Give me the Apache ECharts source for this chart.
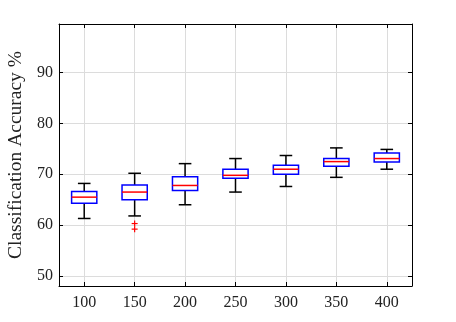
<!DOCTYPE html>
<html>
<head>
<meta charset="utf-8">
<script src="https://cdn.jsdelivr.net/npm/echarts@6/dist/echarts.min.js"></script>
<style>
  html, body { margin: 0; padding: 0; background: #fff; }
  #chart { width: 456px; height: 322px; }
</style>
</head>
<body>
<div id="chart"></div>
<script>
// categories (sample sizes)
const categories = ['100', '150', '200', '250', '300', '350', '400'];
// box stats per category: [lower whisker, Q1, median, Q3, upper whisker]
const lowerWhisker = [61.3, 61.8, 64.0, 66.5, 67.6, 69.4, 71.0];
const q1Values     = [64.3, 65.0, 66.8, 69.2, 70.0, 71.6, 72.4];
const medianValues = [65.5, 66.5, 67.8, 69.8, 71.0, 72.5, 73.1];
const q3Values     = [66.6, 67.9, 69.5, 71.0, 71.8, 73.1, 74.2];
const upperWhisker = [68.2, 70.2, 72.1, 73.1, 73.7, 75.2, 74.9];
// outliers: [category index (1-based), value]
const outliers = [[2, 60.3], [2, 59.2]];
const yTicks = [50, 60, 70, 80, 90];

const font = '"Liberation Serif", "Times New Roman", serif';

const boxData = categories.map((c, i) => [
  i + 1, lowerWhisker[i], q1Values[i], medianValues[i], q3Values[i], upperWhisker[i]
]);

// draw whiskers (black), box (blue), median (red)
function renderBox(params, api) {
  const x = api.value(0);
  const unit = api.size([1, 0])[0];
  const halfBox = unit * 0.25;
  const halfCap = unit * 0.125;
  const pLow = api.coord([x, api.value(1)]);
  const pQ1 = api.coord([x, api.value(2)]);
  const pMed = api.coord([x, api.value(3)]);
  const pQ3 = api.coord([x, api.value(4)]);
  const pHigh = api.coord([x, api.value(5)]);
  const cx = pMed[0];
  const black = { stroke: '#000', lineWidth: 1.5 };
  return {
    type: 'group',
    children: [
      { type: 'line', shape: { x1: cx, y1: pQ3[1], x2: cx, y2: pHigh[1] }, style: black },
      { type: 'line', shape: { x1: cx, y1: pQ1[1], x2: cx, y2: pLow[1] }, style: black },
      { type: 'line', shape: { x1: cx - halfCap, y1: pHigh[1], x2: cx + halfCap, y2: pHigh[1] }, style: black },
      { type: 'line', shape: { x1: cx - halfCap, y1: pLow[1], x2: cx + halfCap, y2: pLow[1] }, style: black },
      { type: 'rect', shape: { x: cx - halfBox, y: pQ3[1], width: halfBox * 2, height: pQ1[1] - pQ3[1] },
        style: { fill: '#fff', stroke: '#0000ff', lineWidth: 1.5 } },
      { type: 'line', shape: { x1: cx - halfBox, y1: pMed[1], x2: cx + halfBox, y2: pMed[1] },
        style: { stroke: '#ff0000', lineWidth: 1.5 } }
    ]
  };
}

function renderPlus(params, api) {
  const p = api.coord([api.value(0), api.value(1)]);
  const s = 3;
  const st = { stroke: '#ff0000', lineWidth: 1.2 };
  return {
    type: 'group',
    children: [
      { type: 'line', shape: { x1: p[0] - s, y1: p[1], x2: p[0] + s, y2: p[1] }, style: st },
      { type: 'line', shape: { x1: p[0], y1: p[1] - s, x2: p[0], y2: p[1] + s }, style: st }
    ]
  };
}

const xBase = {
  type: 'value', min: 0.5, max: 7.5, minInterval: 1, maxInterval: 1,
  axisLine: { show: true, onZero: false, lineStyle: { color: '#000', width: 1 } },
  axisTick: { show: true, inside: true, length: 4, lineStyle: { color: '#000' } },
  splitLine: { show: false }
};
const yBase = {
  type: 'value', min: 48, max: 99.6, minInterval: 10, maxInterval: 10,
  axisLine: { show: true, onZero: false, lineStyle: { color: '#000', width: 1 } },
  axisTick: { show: true, inside: true, length: 4, lineStyle: { color: '#000' } },
  splitLine: { show: false }
};

const chart = echarts.init(document.getElementById('chart'));
chart.setOption({
  animation: false,
  backgroundColor: '#fff',
  grid: { left: 59, right: 44, top: 24, bottom: 36, containLabel: false, outerBoundsMode: 'none' },
  xAxis: [
    Object.assign({}, xBase, {
      position: 'bottom',
      splitLine: { show: true, lineStyle: { color: '#dcdcdc', width: 1 } },
      axisLabel: {
        color: '#222', fontFamily: font, fontSize: 16, margin: 9,
        showMinLabel: false, showMaxLabel: false,
        formatter: v => categories[Math.round(v) - 1] || ''
      }
    }),
    Object.assign({}, xBase, { position: 'top', axisLabel: { show: false } })
  ],
  yAxis: [
    Object.assign({}, yBase, {
      position: 'left',
      name: 'Classification Accuracy %',
      nameLocation: 'middle',
      nameGap: 21,
      nameTextStyle: { color: '#222', fontFamily: font, fontSize: 19.5 },
      splitLine: { show: true, lineStyle: { color: '#dcdcdc', width: 1 } },
      axisLabel: {
        color: '#222', fontFamily: font, fontSize: 16, margin: 6,
        showMinLabel: false, showMaxLabel: false,
        formatter: v => yTicks.indexOf(v) >= 0 ? String(v) : ''
      }
    }),
    Object.assign({}, yBase, { position: 'right', axisLabel: { show: false } })
  ],
  series: [
    {
      type: 'custom', xAxisIndex: 0, yAxisIndex: 0,
      renderItem: renderBox,
      encode: { x: 0, y: [1, 2, 3, 4, 5] },
      data: boxData, z: 3
    },
    {
      type: 'custom', xAxisIndex: 0, yAxisIndex: 0,
      renderItem: renderPlus,
      encode: { x: 0, y: 1 },
      data: outliers, z: 4
    }
  ]
});
</script>
</body>
</html>
